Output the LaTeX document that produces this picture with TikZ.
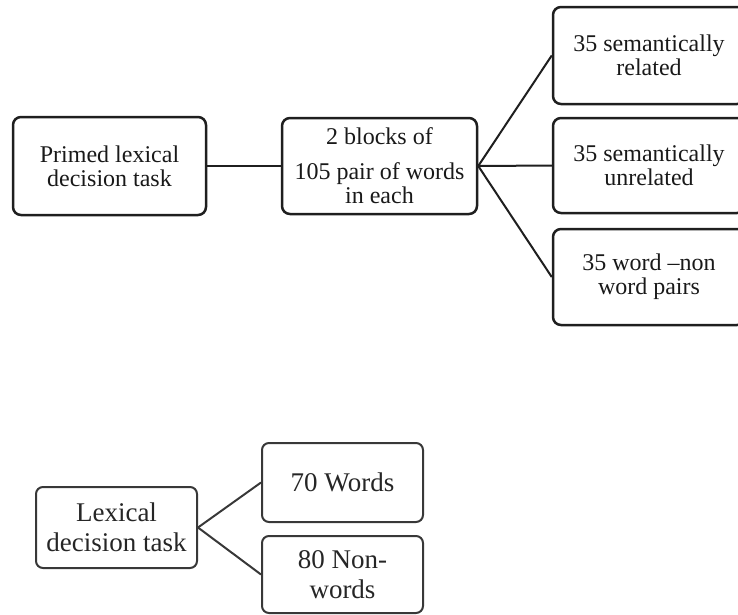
\documentclass[tikz,border=0pt]{standalone}
\usepackage{fontspec}
\setmainfont{Liberation Serif}
\usetikzlibrary{shapes.misc}

\begin{document}
\begin{tikzpicture}[x=1pt,y=-1pt]
\useasboundingbox (0,0) rectangle (738,614);
\begin{scope}[every node/.style={rectangle,rounded corners=8pt,line width=2.5pt,
              draw=black!88,text=black!90,align=center,inner sep=0pt,
              font=\fontsize{24}{24}\selectfont}]
    \node[minimum width=193pt,minimum height=98pt] (prime) at (109.5,166) {Primed lexical\\decision task};
    \node[minimum width=195pt,minimum height=96pt] (blocks) at (379.5,166) {2 blocks of\\[11pt]105 pair of words\\in each};
    \node[minimum width=192pt,minimum height=97pt] (rel) at (649,55.5) {35 semantically\\related};
    \node[minimum width=192pt,minimum height=95pt] (unrel) at (649,165.5) {35 semantically\\unrelated};
    \node[minimum width=192pt,minimum height=96pt] (nonpair) at (649,277) {35 word --non\\word pairs};
\end{scope}
\begin{scope}[every node/.style={rectangle,rounded corners=7pt,line width=2pt,
              draw=black!78,text=black!85,align=center,inner sep=0pt,
              font=\fontsize{27}{30}\selectfont}]
    \node[minimum width=161pt,minimum height=81pt] (lex) at (116.5,527.5) {Lexical\\decision task};
    \node[minimum width=161pt,minimum height=79pt] (words) at (342.5,482.5) {70 Words};
    \node[minimum width=161pt,minimum height=77pt] (nonwords) at (342.5,574.5) {80 Non-\\words};
\end{scope}
\begin{scope}[every edge/.style={draw=black!88,line width=2pt}]
    \path [-] (prime) edge (blocks);
    \path [-] (blocks.east) edge (rel.west);
    \path [-] (blocks.east) edge (unrel.west);
    \path [-] (blocks.east) edge (nonpair.west);
\end{scope}
\begin{scope}[every edge/.style={draw=black!78,line width=2pt}]
    \path [-] (lex.east) edge (words.west);
    \path [-] (lex.east) edge (nonwords.west);
\end{scope}
\end{tikzpicture}
\end{document}
